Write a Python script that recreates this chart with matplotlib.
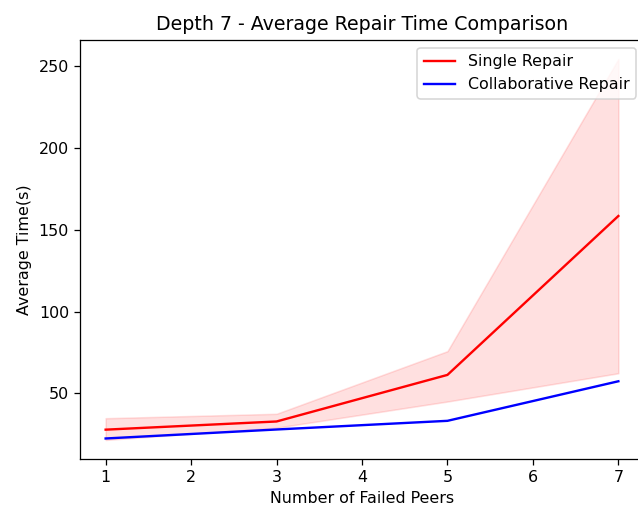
import matplotlib
matplotlib.use("Agg")
import matplotlib.pyplot as plt
import numpy as np

failed_peers = [1, 3, 5, 7]
single_mean = [27.8, 32.8, 61.3, 158.5]
single_low = [21.5, 29.0, 45.0, 62.3]
single_high = [34.8, 37.5, 75.8, 254.5]
collab_mean = [22.4, 27.9, 33.2, 57.4]

# reference looks like a slightly enlarged render, so use a higher dpi
dpi = 114
fig = plt.figure(figsize=(638/dpi, 513/dpi), dpi=dpi)
ax = fig.add_axes([80/638, 54/513, 564/638, 419/513])

ax.plot(failed_peers, single_mean, color='red', label='Single Repair')
ax.fill_between(failed_peers, single_low, single_high, color='red', alpha=0.12)
ax.plot(failed_peers, collab_mean, color='blue', label='Collaborative Repair')

ax.set_title('Depth 7 - Average Repair Time Comparison')
ax.set_xlabel('Number of Failed Peers')
ax.set_ylabel('Average Time(s)')
ax.legend(loc='upper right')

fig.savefig('out.png', dpi=dpi)
